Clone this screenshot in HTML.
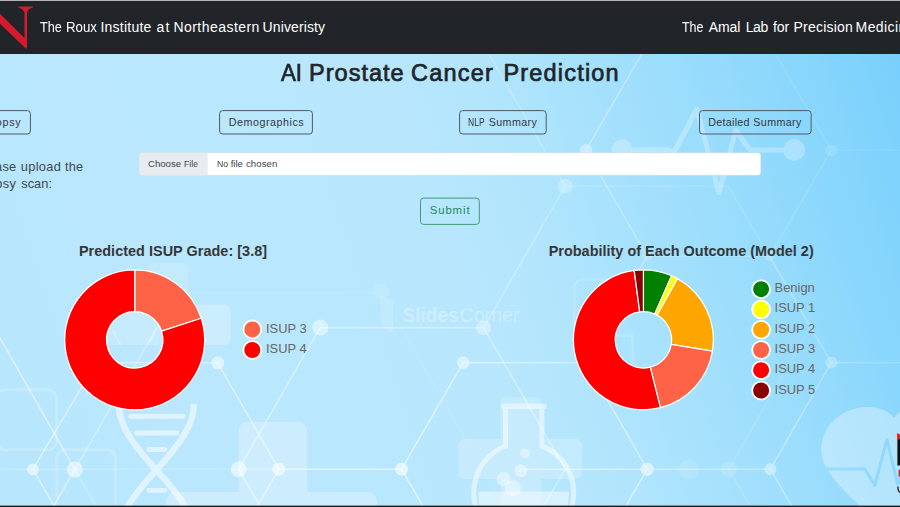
<!DOCTYPE html>
<html lang="en">
<head>
<meta charset="utf-8">
<title>AI Prostate Cancer Prediction</title>
<style>
  html, body { margin: 0; padding: 0; }
  html { overflow: hidden; width: 900px; height: 507px; }
  body {
    width: 900px; height: 507px; overflow: hidden; position: relative;
    font-family: "Liberation Sans", sans-serif;
    background: #b9e6fd;
  }
  #bg { position: absolute; left: 0; top: 0; width: 900px; height: 507px; }
  #topline { position: absolute; left: 0; top: 0; width: 900px; height: 1px; background: #b4b4b4; }
  #nav { position: absolute; left: 0; top: 1px; width: 900px; height: 53px; background: #212529; }
  .lg { position: absolute; font-size: 12.9px; line-height: 16px; color: #666; white-space: nowrap; }
</style>
</head>
<body>
<svg id="bg" viewBox="0 0 900 507">
  <defs>
    <linearGradient id="g1" gradientUnits="userSpaceOnUse" x1="-154.4" y1="52.5" x2="790.7" y2="-268.9">
      <stop offset="0" stop-color="#b7e6fd"/>
      <stop offset="0.2" stop-color="#bae7fd"/>
      <stop offset="0.5" stop-color="#b8e7fd"/>
      <stop offset="0.6" stop-color="#b2e5fd"/>
      <stop offset="0.8" stop-color="#98dcfc"/>
      <stop offset="1" stop-color="#78d0fc"/>
    </linearGradient>
    <linearGradient id="lmg" gradientUnits="userSpaceOnUse" x1="85.1" y1="-52.4" x2="765.9" y2="-471.6">
      <stop offset="0" stop-color="#fff"/>
      <stop offset="1" stop-color="#0c0c0c"/>
    </linearGradient>
  </defs>
  <rect x="0" y="0" width="900" height="507" fill="url(#g1)"/>
<rect x="148.8" y="263.3" width="39.5" height="39.5" rx="5" fill="#fff" fill-opacity="0.13"/>
<rect x="193" y="304.5" width="37.5" height="40.5" rx="6" fill="#fff" fill-opacity="0.26"/>
<rect x="-4" y="389.8" width="60.6" height="60" rx="9" fill="none" stroke="#fff" stroke-opacity="0.2" stroke-width="3.1"/>
<rect x="56.8" y="449.4" width="58.6" height="70" rx="9" fill="none" stroke="#fff" stroke-opacity="0.18" stroke-width="3.1"/>
<path d="M640 279.6 H582.4 a8 8 0 0 0 -8 8 V345" fill="none" stroke="#fff" stroke-opacity="0.15" stroke-width="2.5"/>
<path d="M605 335.6 H632.4 V375" fill="none" stroke="#fff" stroke-opacity="0.17" stroke-width="2.5"/>
<path d="M247.6 421.7 H298.4 a9 9 0 0 1 9 9 V492 H367.8 a9 9 0 0 1 9 9 V520 H166 V501 a9 9 0 0 1 9 -9 H238.6 V430.7 a9 9 0 0 1 9 -9 Z" fill="#fff" fill-opacity="0.28"/>
<path d="M506.5 397.4 H535.6 a6 6 0 0 1 6 6 V439 H576 a6 6 0 0 1 6 6 V473 a6 6 0 0 1 -6 6 H541.6 V520 H500.5 V479 H464.5 a6 6 0 0 1 -6 -6 V445 a6 6 0 0 1 6 -6 H500.5 V403.4 a6 6 0 0 1 6 -6 Z" fill="#fff" fill-opacity="0.2"/>
<g opacity="0.27"><path d="M622 150 H668 L674 152.5 L696.8 109 L719 192.6 L735.8 130.5 L750 150 H794" fill="none" stroke="#fff" stroke-width="5" stroke-linejoin="round" stroke-linecap="round"/><circle cx="622.2" cy="149.8" r="10.4" fill="#fff"/><circle cx="794.2" cy="149.9" r="10.8" fill="#fff"/></g>
<mask id="lm" maskUnits="userSpaceOnUse" x="-10" y="0" width="920" height="520"><rect x="-10" y="0" width="920" height="520" fill="url(#lmg)"/></mask>
<g mask="url(#lm)">
<line x1="586.0" y1="150.2" x2="647.2" y2="44.1" stroke="#fff" stroke-opacity="0.587" stroke-width="1.6"/>
<line x1="586.0" y1="150.2" x2="647.2" y2="256.3" stroke="#fff" stroke-opacity="0.47" stroke-width="1.6"/>
<line x1="769.8" y1="44.1" x2="831.3" y2="150.2" stroke="#fff" stroke-opacity="0.259" stroke-width="1.6"/>
<line x1="831.3" y1="150.2" x2="769.8" y2="256.3" stroke="#fff" stroke-opacity="0.282" stroke-width="1.6"/>
<line x1="831.3" y1="150.2" x2="960.0" y2="150.2" stroke="#fff" stroke-opacity="0.235" stroke-width="1.6"/>
<line x1="769.8" y1="256.3" x2="831.3" y2="362.6" stroke="#fff" stroke-opacity="0.47" stroke-width="1.6"/>
<line x1="831.3" y1="362.6" x2="960.0" y2="362.6" stroke="#fff" stroke-opacity="0.423" stroke-width="1.6"/>
<line x1="831.3" y1="362.6" x2="770.4" y2="469.2" stroke="#fff" stroke-opacity="0.564" stroke-width="1.6"/>
<line x1="647.2" y1="256.3" x2="769.8" y2="256.3" stroke="#fff" stroke-opacity="0.329" stroke-width="1.6"/>
<line x1="647.2" y1="256.3" x2="586.0" y2="362.6" stroke="#fff" stroke-opacity="0.423" stroke-width="1.6"/>
<line x1="463.2" y1="362.6" x2="586.0" y2="362.6" stroke="#fff" stroke-opacity="0.517" stroke-width="1.6"/>
<line x1="586.0" y1="362.6" x2="647.2" y2="469.2" stroke="#fff" stroke-opacity="0.611" stroke-width="1.6"/>
<line x1="463.2" y1="362.6" x2="401.6" y2="469.2" stroke="#fff" stroke-opacity="0.54" stroke-width="1.6"/>
<line x1="217.8" y1="362.8" x2="278.8" y2="469.2" stroke="#fff" stroke-opacity="0.47" stroke-width="1.6"/>
<line x1="96.0" y1="362.6" x2="217.8" y2="362.8" stroke="#fff" stroke-opacity="0.423" stroke-width="1.6"/>
<line x1="33.0" y1="469.4" x2="96.0" y2="362.6" stroke="#fff" stroke-opacity="0.47" stroke-width="1.6"/>
<line x1="33.0" y1="469.4" x2="94.2" y2="575.5" stroke="#fff" stroke-opacity="0.47" stroke-width="1.6"/>
<line x1="278.8" y1="469.2" x2="217.6" y2="575.3" stroke="#fff" stroke-opacity="0.47" stroke-width="1.6"/>
<line x1="401.6" y1="469.2" x2="462.9" y2="575.3" stroke="#fff" stroke-opacity="0.564" stroke-width="1.6"/>
<line x1="647.2" y1="469.2" x2="586.0" y2="575.3" stroke="#fff" stroke-opacity="0.611" stroke-width="1.6"/>
<line x1="770.4" y1="469.2" x2="831.6" y2="575.3" stroke="#fff" stroke-opacity="0.564" stroke-width="1.6"/>
<line x1="483.6" y1="44.8" x2="565.2" y2="186.1" stroke="#fff" stroke-opacity="0.329" stroke-width="1.6"/>
<line x1="565.2" y1="186.1" x2="728.4" y2="186.1" stroke="#fff" stroke-opacity="0.211" stroke-width="1.6"/>
<line x1="565.2" y1="186.1" x2="483.7" y2="327.8" stroke="#fff" stroke-opacity="0.352" stroke-width="1.6"/>
<line x1="320.2" y1="327.6" x2="483.7" y2="327.8" stroke="#fff" stroke-opacity="0.376" stroke-width="1.6"/>
<line x1="483.7" y1="327.8" x2="565.2" y2="469.2" stroke="#fff" stroke-opacity="0.446" stroke-width="1.6"/>
<line x1="320.2" y1="327.6" x2="238.7" y2="469.3" stroke="#fff" stroke-opacity="0.399" stroke-width="1.6"/>
<line x1="-6.0" y1="327.4" x2="74.8" y2="469.5" stroke="#fff" stroke-opacity="0.47" stroke-width="1.6"/>
<line x1="74.8" y1="469.5" x2="-6.8" y2="610.8" stroke="#fff" stroke-opacity="0.47" stroke-width="1.6"/>
<line x1="238.7" y1="469.3" x2="320.3" y2="610.6" stroke="#fff" stroke-opacity="0.47" stroke-width="1.6"/>
<line x1="565.2" y1="469.2" x2="483.6" y2="610.5" stroke="#fff" stroke-opacity="0.423" stroke-width="1.6"/>
<line x1="728.8" y1="469.2" x2="810.0" y2="327.4" stroke="#fff" stroke-opacity="0.188" stroke-width="1.6"/>
<line x1="728.4" y1="186.1" x2="810.0" y2="327.4" stroke="#fff" stroke-opacity="0.188" stroke-width="1.6"/>
<line x1="728.8" y1="469.2" x2="810.4" y2="610.5" stroke="#fff" stroke-opacity="0.164" stroke-width="1.6"/>
<line x1="74.8" y1="469.5" x2="157.2" y2="327.4" stroke="#fff" stroke-opacity="0.329" stroke-width="1.6"/>
<line x1="74.8" y1="469.5" x2="156.4" y2="610.8" stroke="#fff" stroke-opacity="0.211" stroke-width="1.6"/>
<line x1="-5.0" y1="469.4" x2="278.8" y2="469.2" stroke="#fff" stroke-opacity="0.197" stroke-width="1.6"/>
<line x1="278.8" y1="469.2" x2="401.6" y2="469.2" stroke="#fff" stroke-opacity="0.54" stroke-width="1.6"/>
<line x1="520.0" y1="469.4" x2="770.4" y2="469.2" stroke="#fff" stroke-opacity="0.517" stroke-width="1.6"/>
<line x1="150.0" y1="293.0" x2="381.0" y2="293.0" stroke="#fff" stroke-opacity="0.094" stroke-width="1.3"/>
<line x1="381.0" y1="293.0" x2="500.0" y2="499.0" stroke="#fff" stroke-opacity="0.094" stroke-width="1.3"/>
<circle cx="586.0" cy="150.2" r="6.2" fill="#fff" fill-opacity="0.583"/>
<circle cx="565.2" cy="186.1" r="7.5" fill="#fff" fill-opacity="0.398"/>
<circle cx="831.3" cy="150.2" r="6" fill="#fff" fill-opacity="0.345"/>
<circle cx="769.8" cy="256.3" r="5" fill="#fff" fill-opacity="0.318"/>
<circle cx="647.2" cy="256.3" r="5" fill="#fff" fill-opacity="0.318"/>
<circle cx="831.3" cy="362.6" r="6" fill="#fff" fill-opacity="0.53"/>
<circle cx="483.7" cy="327.8" r="7.5" fill="#fff" fill-opacity="0.424"/>
<circle cx="320.2" cy="327.6" r="8" fill="#fff" fill-opacity="0.451"/>
<circle cx="463.2" cy="362.6" r="6.3" fill="#fff" fill-opacity="0.53"/>
<circle cx="217.8" cy="362.8" r="6.5" fill="#fff" fill-opacity="0.53"/>
<circle cx="33.0" cy="469.4" r="6" fill="#fff" fill-opacity="0.53"/>
<circle cx="74.8" cy="469.5" r="8" fill="#fff" fill-opacity="0.53"/>
<circle cx="238.7" cy="469.3" r="8" fill="#fff" fill-opacity="0.557"/>
<circle cx="278.8" cy="469.2" r="6.5" fill="#fff" fill-opacity="0.583"/>
<circle cx="401.6" cy="469.2" r="6.5" fill="#fff" fill-opacity="0.609"/>
<circle cx="647.2" cy="469.2" r="6.7" fill="#fff" fill-opacity="0.689"/>
<circle cx="770.4" cy="469.2" r="6" fill="#fff" fill-opacity="0.636"/>
<circle cx="728.8" cy="469.2" r="8" fill="#fff" fill-opacity="0.212"/>
<circle cx="688.8" cy="469.2" r="10" fill="#fff" fill-opacity="0.159"/>
</g>
<clipPath id="h1"><circle cx="134.7" cy="339.85" r="29"/></clipPath>
<g clip-path="url(#h1)"><rect x="100" y="300" width="70" height="45" fill="#fff" fill-opacity="0.16"/><path d="M112.4 329.9 L120.7 345 M158 325.7 L148.3 345" stroke="#fff" stroke-opacity="0.3" stroke-width="1.6" fill="none"/></g>
<g opacity="0.54"><g fill="none" stroke="#fff" stroke-width="6.4"><path d="M119.2 398.0 L118.9 401.0 L118.8 404.0 L118.9 407.0 L119.2 410.0 L119.7 413.0 L120.3 416.0 L121.2 419.0 L122.2 422.0 L123.4 425.0 L124.8 428.0 L126.3 431.0 L128.0 434.0 L129.8 437.0 L131.7 440.0 L133.8 443.0 L136.0 446.0 L138.3 449.0 L140.7 452.0 L143.2 455.0 L145.7 458.0 L148.3 461.0 L151.0 464.0 L153.6 467.0 L156.3 470.0 L159.0 473.0 L161.6 476.0 L164.3 479.0 L166.9 482.0 L169.4 485.0 L171.9 488.0 L174.3 491.0 L176.6 494.0 L178.8 497.0 L180.9 500.0 L182.8 503.0 L184.6 506.0 L186.3 509.0 L187.8 512.0"/><path d="M193.8 403.8 L193.7 406.8 L193.4 409.8 L193.0 412.8 L192.3 415.8 L191.5 418.8 L190.5 421.8 L189.3 424.8 L187.9 427.8 L186.4 430.8 L184.8 433.8 L182.9 436.8 L181.0 439.8 L178.9 442.8 L176.7 445.8 L174.4 448.8 L172.0 451.8 L169.6 454.8 L167.0 457.8 L164.4 460.8 L161.8 463.8 L159.2 466.8 L156.5 469.8 L153.8 472.8 L151.1 475.8 L148.5 478.8 L145.9 481.8 L143.4 484.8 L140.9 487.8 L138.5 490.8 L136.2 493.8 L134.0 496.8 L131.9 499.8 L129.9 502.8 L128.1 505.8 L126.4 508.8 L124.8 511.8"/></g>
<line x1="130.70000000000002" y1="416.4" x2="183.29999999999998" y2="416.4" stroke="#fff" stroke-width="4.8" stroke-linecap="round"/>
<line x1="136.6" y1="433" x2="177.1" y2="433" stroke="#fff" stroke-width="4.8" stroke-linecap="round"/>
<line x1="148.8" y1="449.5" x2="164.9" y2="449.5" stroke="#fff" stroke-width="4.8" stroke-linecap="round"/>
<line x1="148.8" y1="490.4" x2="164.9" y2="490.4" stroke="#fff" stroke-width="4.8" stroke-linecap="round"/>
</g>
<g fill="none" stroke="#fff" stroke-opacity="0.5" stroke-width="5">
<path d="M505.5 409 V446.0 A50 50 0 1 0 541.9 446.0 V409"/>
</g>
<line x1="504" y1="406.2" x2="544" y2="406.2" stroke="#fff" stroke-opacity="0.5" stroke-width="5.6" stroke-linecap="round"/>
<path d="M478 491.6 H569.3 L566 520 H481 Z" fill="#fff" fill-opacity="0.45"/>
<circle cx="525" cy="453.5" r="5" fill="#fff" fill-opacity="0.4"/>
<circle cx="520.8" cy="470.8" r="6.5" fill="#fff" fill-opacity="0.4"/>
<circle cx="503.5" cy="479" r="7" fill="#fff" fill-opacity="0.4"/>
<circle cx="512.7" cy="488" r="8" fill="#fff" fill-opacity="0.4"/>
<mask id="hm" maskUnits="userSpaceOnUse" x="800" y="390" width="120" height="130"><rect x="800" y="390" width="120" height="130" fill="#fff"/><path d="M822 469 H865 L874.7 485.5 L887 439.5 L897.6 484 L905 470" fill="none" stroke="#000" stroke-width="3" stroke-linejoin="round"/></mask>
<path mask="url(#hm)" d="M894 418 C 886 407, 868 404.5, 852 409.5 C 829 417, 815 441, 824 463 C 834 486, 862 506, 894 540 L 960 540 L 960 400 C 930 400, 905 402, 894 418 Z" fill="#fff" fill-opacity="0.33"/>
<path d="M897.1 432.9 L900 434.5 V439.2 H897.1 Z" fill="#e01b24"/><rect x="897.4" y="439.2" width="3" height="26.3" fill="#111"/><rect x="898.6" y="469.7" width="2" height="6.9" fill="#e01b24"/><path d="M897.9 486.5 C897.9 491 899 492.3 900.5 492.5" fill="none" stroke="#111" stroke-width="1.3"/>
<g fill="#fff" fill-opacity="0.3" font-family="Liberation Sans, sans-serif" font-size="20"><text x="402.5" y="322.2" font-weight="bold" textLength="56" lengthAdjust="spacingAndGlyphs">Slides</text><text x="459.5" y="322.2" textLength="60" lengthAdjust="spacingAndGlyphs">Corner</text></g>
<circle cx="381" cy="291" r="8" fill="#fff" fill-opacity="0.1"/><path d="M380 296 L393 300 L393 333 L382 327 Z" fill="#fff" fill-opacity="0.13"/>
</svg>

<div id="topline"></div>
<div id="nav">
  <svg style="position:absolute;left:0;top:0" width="40" height="53" viewBox="0 1 40 53">
    <path d="M0 13.8 L24.5 38 L24.5 13.2 C24.3 10 21 8 18.2 7.4 L18.2 6.4 L33.1 6.4 L33.1 7.4 C30 8 27.2 10 27 13.2 L27 47 L26.3 48.8 L25.7 48.6 L0 23.7 Z" fill="#d41b2c"/>
  </svg>
</div>



<svg id="boxes" style="position:absolute;left:0;top:0" width="900" height="507" viewBox="0 0 900 507">
  <g fill="none" stroke="#505a63" stroke-width="1">
    <rect x="-24.5" y="110.6" width="54.9" height="23.4" rx="3"/>
    <rect x="219.6" y="110.6" width="92.8" height="23.4" rx="3"/>
    <rect x="459.6" y="110.6" width="86.6" height="23.4" rx="3"/>
    <rect x="699.5" y="110.6" width="111.6" height="23.4" rx="3"/>
  </g>
  <rect x="139.4" y="152.7" width="621.4" height="22.5" rx="3" fill="#fff" stroke="#cfd8df" stroke-width="0.5"/>
  <path d="M142.4 152.7 H207.7 V175.2 H142.4 a3 3 0 0 1 -3 -3 V155.7 a3 3 0 0 1 3 -3 Z" fill="#e9ecef"/>
  <rect x="420.5" y="198.1" width="58.8" height="26.3" rx="3" fill="none" stroke="#3f9d76" stroke-width="1"/>
</svg>
<span style="position:absolute;left:40.00px;top:17.55px;font-size:14px;line-height:18px;letter-spacing:0.000px;white-space:nowrap;color:#fff;transform:scaleX(0.9039);transform-origin:0 0;">The</span>
<span style="position:absolute;left:66.05px;top:17.55px;font-size:14px;line-height:18px;letter-spacing:0.000px;white-space:nowrap;color:#fff;transform:scaleX(0.9469);transform-origin:0 0;">Roux</span>
<span style="position:absolute;left:100.40px;top:17.55px;font-size:14px;line-height:18px;letter-spacing:0.245px;white-space:nowrap;color:#fff;">Institute</span>
<span style="position:absolute;left:156.60px;top:17.55px;font-size:14px;line-height:18px;letter-spacing:1.014px;white-space:nowrap;color:#fff;">at</span>
<span style="position:absolute;left:173.40px;top:17.55px;font-size:14px;line-height:18px;letter-spacing:0.460px;white-space:nowrap;color:#fff;">Northeastern</span>
<span style="position:absolute;left:262.60px;top:17.55px;font-size:14px;line-height:18px;letter-spacing:0.105px;white-space:nowrap;color:#fff;">Univeristy</span>
<span style="position:absolute;left:682.00px;top:17.55px;font-size:14px;line-height:18px;letter-spacing:0.000px;white-space:nowrap;color:#fff;transform:scaleX(0.8916);transform-origin:0 0;">The</span>
<span style="position:absolute;left:708.80px;top:17.55px;font-size:14px;line-height:18px;letter-spacing:-0.095px;white-space:nowrap;color:#fff;">Amal</span>
<span style="position:absolute;left:745.70px;top:17.55px;font-size:14px;line-height:18px;letter-spacing:-0.436px;white-space:nowrap;color:#fff;">Lab</span>
<span style="position:absolute;left:773.00px;top:17.55px;font-size:14px;line-height:18px;letter-spacing:-0.038px;white-space:nowrap;color:#fff;">for</span>
<span style="position:absolute;left:793.50px;top:17.55px;font-size:14px;line-height:18px;letter-spacing:0.213px;white-space:nowrap;color:#fff;">Precision</span>
<span style="position:absolute;left:855.60px;top:17.55px;font-size:14px;line-height:18px;letter-spacing:0.394px;white-space:nowrap;color:#fff;width:44.40px;overflow:hidden;">Medicine</span>
<span style="position:absolute;left:281.40px;top:57.86px;font-size:23.5px;line-height:30px;letter-spacing:0.000px;white-space:nowrap;color:#212529;-webkit-text-stroke:0.7px #212529;transform:scaleX(0.9480);transform-origin:0 0;">AI</span>
<span style="position:absolute;left:309.00px;top:57.86px;font-size:23.5px;line-height:30px;letter-spacing:1.022px;white-space:nowrap;color:#212529;-webkit-text-stroke:0.7px #212529;">Prostate</span>
<span style="position:absolute;left:411.00px;top:57.86px;font-size:23.5px;line-height:30px;letter-spacing:1.214px;white-space:nowrap;color:#212529;-webkit-text-stroke:0.7px #212529;">Cancer</span>
<span style="position:absolute;left:503.40px;top:57.86px;font-size:23.5px;line-height:30px;letter-spacing:1.197px;white-space:nowrap;color:#212529;-webkit-text-stroke:0.7px #212529;">Prediction</span>
<span style="position:absolute;left:-15.50px;top:115.39px;font-size:10.7px;line-height:14px;letter-spacing:0.813px;white-space:nowrap;color:#30373d;">Biopsy</span>
<span style="position:absolute;left:228.70px;top:115.39px;font-size:10.7px;line-height:14px;letter-spacing:0.549px;white-space:nowrap;color:#30373d;">Demographics</span>
<span style="position:absolute;left:468.40px;top:115.39px;font-size:10.7px;line-height:14px;letter-spacing:0.000px;white-space:nowrap;color:#30373d;transform:scaleX(0.7986);transform-origin:0 0;">NLP</span>
<span style="position:absolute;left:488.70px;top:115.39px;font-size:10.7px;line-height:14px;letter-spacing:0.420px;white-space:nowrap;color:#30373d;">Summary</span>
<span style="position:absolute;left:708.20px;top:115.39px;font-size:10.7px;line-height:14px;letter-spacing:0.305px;white-space:nowrap;color:#30373d;">Detailed</span>
<span style="position:absolute;left:753.30px;top:115.39px;font-size:10.7px;line-height:14px;letter-spacing:0.387px;white-space:nowrap;color:#30373d;">Summary</span>
<span style="position:absolute;left:-24.00px;top:157.56px;font-size:12.8px;line-height:17px;letter-spacing:0.198px;white-space:nowrap;color:#3f474e;">Please</span>
<span style="position:absolute;left:20.70px;top:157.56px;font-size:12.8px;line-height:17px;letter-spacing:0.358px;white-space:nowrap;color:#3f474e;">upload</span>
<span style="position:absolute;left:65.00px;top:157.56px;font-size:12.8px;line-height:17px;letter-spacing:0.164px;white-space:nowrap;color:#3f474e;">the</span>
<span style="position:absolute;left:-23.00px;top:174.56px;font-size:12.8px;line-height:17px;letter-spacing:0.381px;white-space:nowrap;color:#3f474e;">biopsy</span>
<span style="position:absolute;left:21.20px;top:174.56px;font-size:12.8px;line-height:17px;letter-spacing:0.067px;white-space:nowrap;color:#3f474e;">scan:</span>
<span style="position:absolute;left:148.10px;top:157.87px;font-size:9.6px;line-height:12px;letter-spacing:-0.026px;white-space:nowrap;color:#3b4249;">Choose</span>
<span style="position:absolute;left:184.20px;top:157.87px;font-size:9.6px;line-height:12px;letter-spacing:0.000px;white-space:nowrap;color:#3b4249;transform:scaleX(0.9059);transform-origin:0 0;">File</span>
<span style="position:absolute;left:216.60px;top:157.87px;font-size:9.6px;line-height:12px;letter-spacing:0.000px;white-space:nowrap;color:#3b4249;transform:scaleX(0.9054);transform-origin:0 0;">No</span>
<span style="position:absolute;left:230.80px;top:157.87px;font-size:9.6px;line-height:12px;letter-spacing:-0.109px;white-space:nowrap;color:#3b4249;">file</span>
<span style="position:absolute;left:245.90px;top:157.87px;font-size:9.6px;line-height:12px;letter-spacing:0.100px;white-space:nowrap;color:#3b4249;">chosen</span>
<span style="position:absolute;left:429.70px;top:203.35px;font-size:11.4px;line-height:15px;letter-spacing:0.883px;white-space:nowrap;color:#238a5c;">Submit</span>
<span style="position:absolute;left:78.90px;top:242.19px;font-size:14.45px;line-height:18px;letter-spacing:0.026px;white-space:nowrap;color:#363636;font-weight:bold;">Predicted ISUP Grade: [3.8]</span>
<span style="position:absolute;left:548.70px;top:242.19px;font-size:14.45px;line-height:18px;letter-spacing:0.008px;white-space:nowrap;color:#363636;font-weight:bold;">Probability of Each Outcome (Model 2)</span>


<svg id="charts" style="position:absolute;left:0;top:0" width="900" height="507" viewBox="0 0 900 507">
<path d="M134.70 269.85 A70 70 0 0 1 201.27 318.22 L161.52 331.14 A28.2 28.2 0 0 0 134.70 311.65 Z" fill="#ff6347" stroke="#fff" stroke-width="1.25" stroke-linejoin="round"/>
<path d="M201.27 318.22 A70 70 0 1 1 134.70 269.85 L134.70 311.65 A28.2 28.2 0 1 0 161.52 331.14 Z" fill="#ff0000" stroke="#fff" stroke-width="1.25" stroke-linejoin="round"/>
<path d="M643.40 269.80 A70 70 0 0 1 671.60 275.73 L654.76 313.99 A28.2 28.2 0 0 0 643.40 311.60 Z" fill="#008000" stroke="#fff" stroke-width="1.25" stroke-linejoin="round"/>
<path d="M671.60 275.73 A70 70 0 0 1 677.51 278.67 L657.14 315.17 A28.2 28.2 0 0 0 654.76 313.99 Z" fill="#ffff00" stroke="#fff" stroke-width="1.25" stroke-linejoin="round"/>
<path d="M677.51 278.67 A70 70 0 0 1 712.47 351.18 L671.22 344.39 A28.2 28.2 0 0 0 657.14 315.17 Z" fill="#ffa500" stroke="#fff" stroke-width="1.25" stroke-linejoin="round"/>
<path d="M712.47 351.18 A70 70 0 0 1 660.38 407.71 L650.24 367.16 A28.2 28.2 0 0 0 671.22 344.39 Z" fill="#ff6347" stroke="#fff" stroke-width="1.25" stroke-linejoin="round"/>
<path d="M660.38 407.71 A70 70 0 1 1 634.19 270.41 L639.69 311.85 A28.2 28.2 0 1 0 650.24 367.16 Z" fill="#ff0000" stroke="#fff" stroke-width="1.25" stroke-linejoin="round"/>
<path d="M634.19 270.41 A70 70 0 0 1 643.40 269.80 L643.40 311.60 A28.2 28.2 0 0 0 639.69 311.85 Z" fill="#8b0000" stroke="#fff" stroke-width="1.25" stroke-linejoin="round"/>
<circle cx="252.3" cy="329.4" r="8.9" fill="#ff6347" stroke="#fff" stroke-width="1.8"/>
<circle cx="252.3" cy="350.0" r="8.9" fill="#ff0000" stroke="#fff" stroke-width="1.8"/>
<circle cx="761.1" cy="289.2" r="8.9" fill="#008000" stroke="#fff" stroke-width="1.8"/>
<circle cx="761.1" cy="309.5" r="8.9" fill="#ffff00" stroke="#fff" stroke-width="1.8"/>
<circle cx="761.1" cy="329.7" r="8.9" fill="#ffa500" stroke="#fff" stroke-width="1.8"/>
<circle cx="761.1" cy="350.0" r="8.9" fill="#ff6347" stroke="#fff" stroke-width="1.8"/>
<circle cx="761.1" cy="370.2" r="8.9" fill="#ff0000" stroke="#fff" stroke-width="1.8"/>
<circle cx="761.1" cy="390.5" r="8.9" fill="#8b0000" stroke="#fff" stroke-width="1.8"/>
</svg>

<div class="lg" style="left:266.0px;top:320.6px;">ISUP 3</div>
<div class="lg" style="left:266.0px;top:341.2px;">ISUP 4</div>
<div class="lg" style="left:774.6px;top:280.1px;">Benign</div>
<div class="lg" style="left:774.6px;top:300.4px;">ISUP 1</div>
<div class="lg" style="left:774.6px;top:320.7px;">ISUP 2</div>
<div class="lg" style="left:774.6px;top:341.0px;">ISUP 3</div>
<div class="lg" style="left:774.6px;top:361.3px;">ISUP 4</div>
<div class="lg" style="left:774.6px;top:381.6px;">ISUP 5</div>

<svg style="position:absolute;left:0;top:500px" width="900" height="7" viewBox="0 500 900 7"><rect x="0" y="505.6" width="900" height="2" fill="#1d1e1f"/></svg>
</body>
</html>
